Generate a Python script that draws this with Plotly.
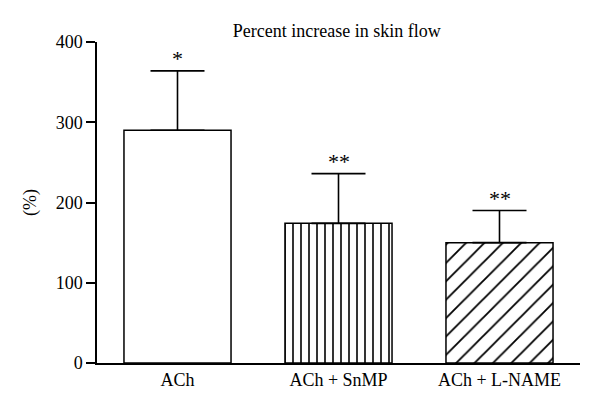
import plotly.graph_objects as go

categories = ["ACh", "ACh + SnMP", "ACh + L-NAME"]
values = [290, 174, 150]
errors = [74, 62, 40]
stars = ["*", "**", "**"]
patterns = ["", "|", "/"]
pattern_sizes = [8, 8, 13]
y_ticks = [0, 100, 200, 300, 400]

FONT = "Liberation Serif"

fig = go.Figure()
fig.add_trace(go.Bar(
    x=list(range(len(categories))),
    y=values,
    width=0.665,
    marker=dict(
        color="white",
        line=dict(color="black", width=1.5),
        pattern=dict(shape=patterns, size=pattern_sizes, solidity=[0.2, 0.2, 0.14],
                     fgcolor="black", bgcolor="white", fgopacity=1),
    ),
    error_y=dict(type="data", array=errors, symmetric=False,
                 arrayminus=[0, 0, 0], color="black", thickness=1.6, width=27),
    showlegend=False,
))

for i, (v, e, s) in enumerate(zip(values, errors, stars)):
    fig.add_annotation(x=i, y=v + e, text=s, showarrow=False, yshift=12,
                       font=dict(family=FONT, size=22, color="black"))

fig.update_layout(
    width=600, height=414,
    margin=dict(l=89, r=28, t=34, b=59),
    paper_bgcolor="white", plot_bgcolor="white",
    font=dict(family=FONT, size=18, color="black"),
    title=dict(text="Percent increase in skin flow", x=0.548, xanchor="center",
               y=0.945, yanchor="middle", font=dict(family=FONT, size=18)),
    xaxis=dict(
        tickmode="array", tickvals=list(range(len(categories))), ticktext=categories,
        range=[-0.5, 2.5], showline=True, linecolor="black", linewidth=1.5,
        ticks="", showgrid=False, zeroline=False, tickfont=dict(size=18),
    ),
    yaxis=dict(
        range=[0, 400], tickvals=y_ticks, showline=True, linecolor="black",
        linewidth=1.5, ticks="outside", ticklen=9, tickwidth=1.5, tickcolor="black",
        showgrid=False, zeroline=False, tickfont=dict(size=18),
        title=dict(text="(%)", standoff=14, font=dict(size=18)),
    ),
)

fig.write_html("out.html")
